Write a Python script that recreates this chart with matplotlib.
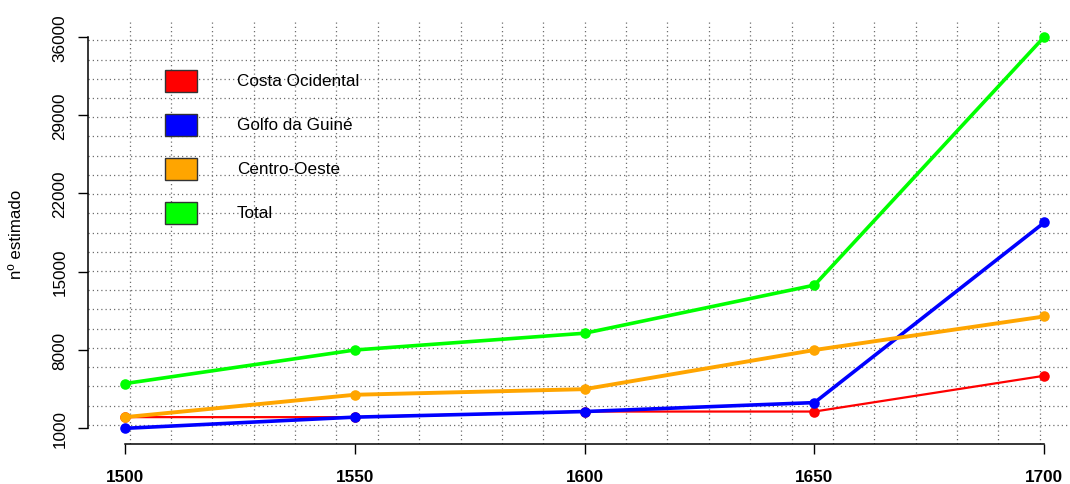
import numpy as np
import matplotlib
matplotlib.use('Agg')
import matplotlib.pyplot as plt
from matplotlib.patches import Rectangle

plt.rcParams['font.family'] = ['Liberation Sans', 'DejaVu Sans']

# estimated numbers per region
anos = [1500, 1550, 1600, 1650, 1700]
costa_ocidental = [2000, 2000, 2500, 2500, 5700]
golfo_guine = [1000, 2000, 2500, 3300, 19400]
centro_oeste = [2000, 4000, 4500, 8000, 11000]
total = [5000, 8000, 9500, 13800, 36000]

series_names = ['Costa Ocidental', 'Golfo da Guiné', 'Centro-Oeste', 'Total']
series_colors = ['#ff0000', '#0000ff', '#ffa500', '#00ff00']
series_values = [costa_ocidental, golfo_guine, centro_oeste, total]
series_lw = [1.6, 2.6, 2.8, 2.6]

y_ticks = [1000, 8000, 15000, 22000, 29000, 36000]
x_ticks = [1500, 1550, 1600, 1650, 1700]

fig = plt.figure(figsize=(10.7, 4.85), dpi=100)
# plot region runs past the right edge like the original (cropped)
ax = fig.add_axes([0.0824, 0.0825, 0.928, 0.872])
ax.set_xlim(1492, 1708)
ax.set_ylim(-400, 37400)

# dotted grid, R style grid(24, 22)
for gx in np.linspace(1492, 1708, 25)[1:-1]:
    ax.axvline(gx, color='#6e6e6e', lw=0.9, ls=(0, (1, 2.4)), zorder=1)
for gy in np.linspace(-400, 37400, 23)[1:-1]:
    ax.axhline(gy, color='#6e6e6e', lw=0.9, ls=(0, (1, 2.4)), zorder=1)

for vals, c, lw in zip(series_values, series_colors, series_lw):
    ax.plot(anos, vals, color=c, lw=lw, marker='o', markersize=7.6,
            markeredgewidth=0, zorder=3)

for s in ['top', 'right']:
    ax.spines[s].set_visible(False)
ax.spines['left'].set_bounds(y_ticks[0], y_ticks[-1])
ax.spines['bottom'].set_bounds(x_ticks[0], x_ticks[-1])
ax.spines['left'].set_linewidth(1.1)
ax.spines['bottom'].set_linewidth(1.1)

ax.set_yticks(y_ticks)
ax.set_yticklabels([str(v) for v in y_ticks], rotation=90, va='center', fontsize=12.3)
ax.set_xticks(x_ticks)
ax.set_xticklabels([str(v) for v in x_ticks], fontweight='bold', fontsize=12.3)
ax.tick_params(axis='y', length=7, width=1, pad=8)
ax.tick_params(axis='x', length=7, width=1, pad=11)

fig.text(17 / 1070, 1 - 234 / 485, 'nº estimado', rotation=90,
         ha='center', va='center', fontsize=12.2)

# legend boxes
for i, (name, c) in enumerate(zip(series_names, series_colors)):
    top = 70.7 + i * 44
    ax.add_patch(Rectangle((165 / 1070, 1 - (top + 22) / 485), 32 / 1070, 22 / 485,
                           transform=fig.transFigure, facecolor=c,
                           edgecolor='#333333', lw=1, clip_on=False, zorder=4))
    fig.text(236.7 / 1070, 1 - (top + 11) / 485, name, ha='left', va='center',
             fontsize=12.3)

fig.savefig('out.png', dpi=100)
